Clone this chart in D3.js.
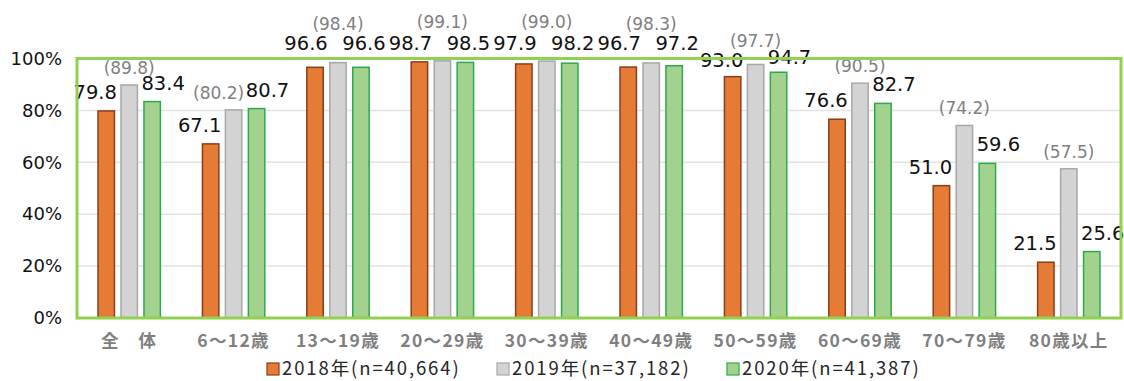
<!DOCTYPE html>
<html lang="ja">
<head>
<meta charset="utf-8">
<script src="https://cdn.jsdelivr.net/npm/d3@7"></script>
<style>
  html, body { margin: 0; padding: 0; background: #ffffff; }
  svg { display: block; }
</style>
</head>
<body>
<div id="chart"></div>
<script>
// Internet usage rate by age group, three survey years
const categories = ["全　体", "6～12歳", "13～19歳", "20～29歳", "30～39歳", "40～49歳", "50～59歳", "60～69歳", "70～79歳", "80歳以上"];
const seriesNames = ["2018年(n=40,664)", "2019年(n=37,182)", "2020年(n=41,387)"];
const values2018 = [79.8, 67.1, 96.6, 98.7, 97.9, 96.7, 93.0, 76.6, 51.0, 21.5];
const values2019 = [89.8, 80.2, 98.4, 99.1, 99.0, 98.3, 97.7, 90.5, 74.2, 57.5];
const values2020 = [83.4, 80.7, 96.6, 98.5, 98.2, 97.2, 94.7, 82.7, 59.6, 25.6];
const yTicks = [0, 20, 40, 60, 80, 100];

const W = 1124, H = 381;
const margin = { top: 58.5, right: 3, bottom: 63, left: 77 };
const iw = W - margin.left - margin.right;
const ih = H - margin.top - margin.bottom;

const series = [
  { name: seriesNames[0], values: values2018, fill: "#E57B34", stroke: "#8A3E17", labelColor: "#111111", paren: false },
  { name: seriesNames[1], values: values2019, fill: "#D3D3D3", stroke: "#A8A8A8", labelColor: "#7F7F7F", paren: true },
  { name: seriesNames[2], values: values2020, fill: "#A3D28E", stroke: "#2BAA4C", labelColor: "#111111", paren: false }
];

const svg = d3.select("#chart").append("svg")
  .attr("width", W).attr("height", H);

const g = svg.append("g").attr("transform", `translate(${margin.left},${margin.top})`);

const x0 = d3.scaleBand().domain(categories).range([0, iw]).padding(0);
const x1 = d3.scaleBand().domain(d3.range(series.length))
  .range([x0.bandwidth() * 0.17, x0.bandwidth() * 0.83])
  .paddingInner(0.22).paddingOuter(0.11);
const y = d3.scaleLinear().domain([0, 100]).range([ih, 0]);

// horizontal gridlines
g.append("g").selectAll("line")
  .data(yTicks.filter(t => t > 0 && t < 100))
  .join("line")
  .attr("x1", 0).attr("x2", iw)
  .attr("y1", d => y(d)).attr("y2", d => y(d))
  .attr("stroke", "#E3E3E3").attr("stroke-width", 1.5);

// y axis labels
const yAxis = d3.axisLeft(y).tickValues(yTicks).tickFormat(d => d + "%").tickSize(0).tickPadding(15);
const ya = g.append("g").call(yAxis);
ya.select(".domain").remove();
ya.selectAll("text")
  .attr("font-family", "'DejaVu Sans', Verdana, sans-serif")
  .attr("font-size", 18).attr("fill", "#111111");

// bars
const groups = g.append("g").selectAll("g")
  .data(categories)
  .join("g")
  .attr("transform", d => `translate(${x0(d)},0)`);

groups.selectAll("rect")
  .data((c, ci) => series.map((s, si) => ({ si, v: s.values[ci], s })))
  .join("rect")
  .attr("x", d => x1(d.si) + 0.75)
  .attr("width", x1.bandwidth() - 1.5)
  .attr("y", d => y(d.v))
  .attr("height", d => y(0) - y(d.v))
  .attr("fill", d => d.s.fill)
  .attr("stroke", d => d.s.stroke)
  .attr("stroke-width", 1.5);

// plot frame
g.append("rect")
  .attr("x", 0).attr("y", 0).attr("width", iw).attr("height", ih)
  .attr("fill", "none").attr("stroke", "#92D050").attr("stroke-width", 3);

// label baselines: the highest values sit in rows above the frame
function labelY(si, v) {
  const by = y(v);
  const top = y(100);
  if (si === 1) {
    if (v >= 98) return by - 33;
    return by - 13 < top ? top - 12 : by - 11;
  }
  if (v >= 96) return top - 9;
  let t = by - 12;
  if (t < top + 12) t = Math.max(by - 10, top + 5);
  return t;
}

// value labels
groups.selectAll("text")
  .data((c, ci) => series.map((s, si) => ({ si, v: s.values[ci], s, ci })))
  .join("text")
  .attr("text-anchor", "middle")
  .attr("font-family", "'DejaVu Sans', Verdana, sans-serif")
  .attr("font-size", d => d.s.paren ? 17 : 19.5)
  .attr("fill", d => d.s.labelColor)
  .attr("x", d => {
    const cx = x1(d.si) + x1.bandwidth() / 2;
    const top = d.v >= 96;
    if (d.si === 0) return cx + (top ? -9 : -11);
    if (d.si === 2) return cx + (top ? 3 : 11);
    // shift the bracketed label left when it shares a row with the neighbour
    const other = labelY(2, values2020[d.ci]);
    return Math.abs(labelY(1, d.v) - other) < 14 ? cx - 15 : cx;
  })
  .attr("y", d => labelY(d.si, d.v))
  .text(d => d.s.paren ? `(${d.v.toFixed(1)})` : d.v.toFixed(1));

// category labels
g.append("g").selectAll("text")
  .data(categories)
  .join("text")
  .attr("x", d => x0(d) + x0.bandwidth() / 2)
  .attr("y", ih + 29)
  .attr("text-anchor", "middle")
  .attr("font-family", "'Noto Sans CJK JP', sans-serif")
  .attr("font-weight", "bold")
  .attr("font-size", 17.5)
  .attr("letter-spacing", 1.3)
  .attr("fill", "#7F7F7F")
  .text(d => d);

// legend
const legendX = [267, 497, 727];
const legend = svg.append("g").attr("transform", `translate(0, ${H - 6})`);
const items = legend.selectAll("g").data(series).join("g")
  .attr("transform", (d, i) => `translate(${legendX[i]},0)`);
items.append("rect")
  .attr("x", 0).attr("y", -12).attr("width", 12).attr("height", 12)
  .attr("fill", d => d.fill).attr("stroke", d => d.stroke).attr("stroke-width", 1.2);
items.append("text")
  .attr("x", 15).attr("y", 0)
  .attr("font-family", "'Noto Sans CJK JP', sans-serif")
  .attr("font-size", 18.5)
  .attr("letter-spacing", 1.9)
  .attr("fill", "#262626")
  .text(d => d.name);
</script>
</body>
</html>
